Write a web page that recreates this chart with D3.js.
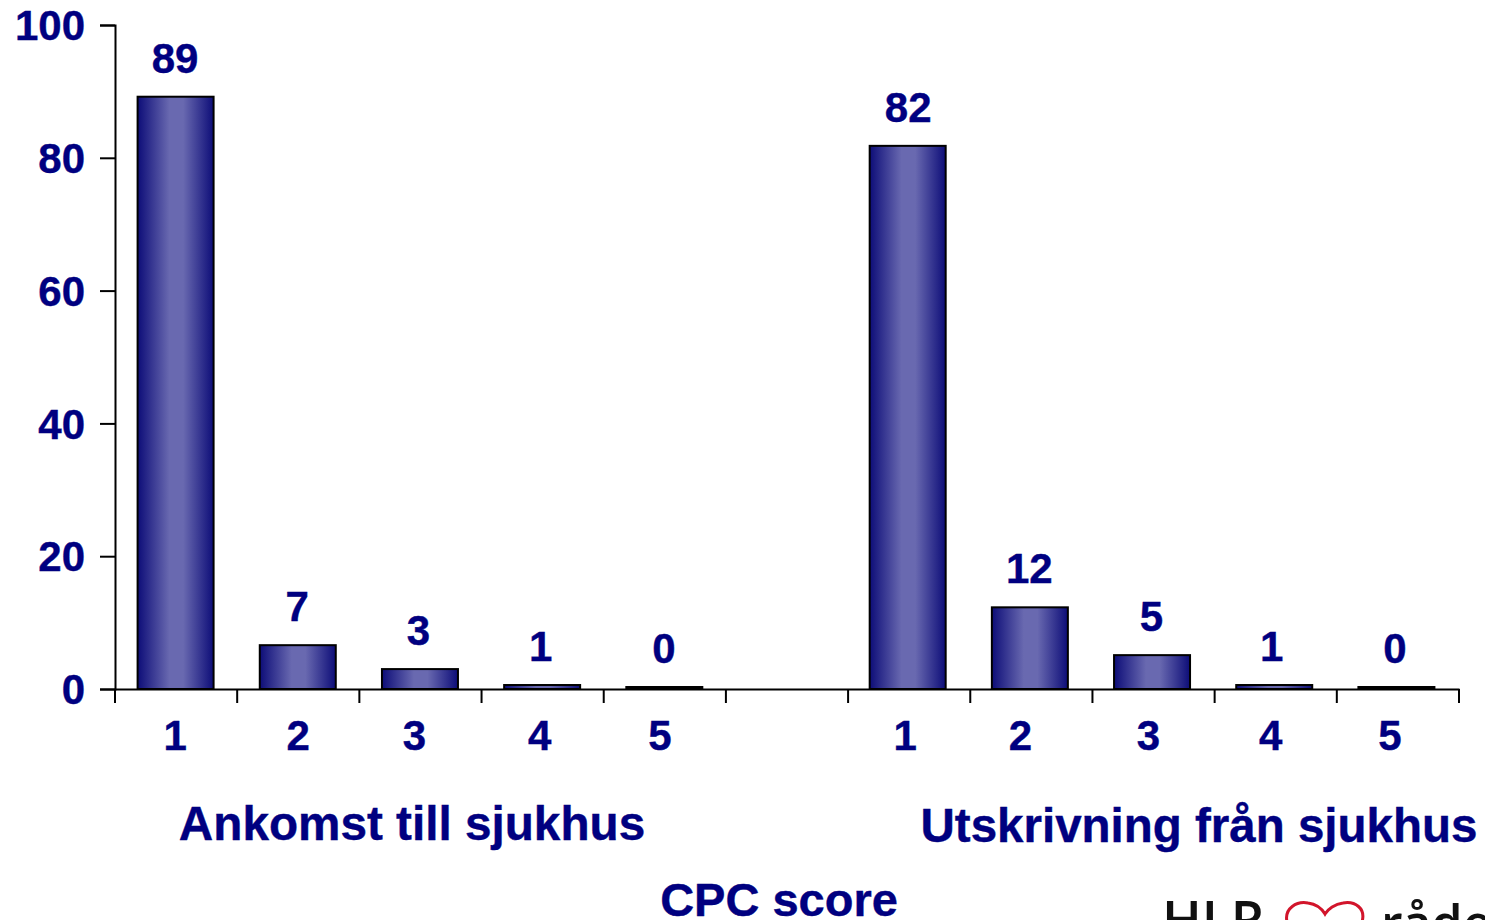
<!DOCTYPE html>
<html><head><meta charset="utf-8">
<script src="https://cdn.jsdelivr.net/npm/d3@7/dist/d3.min.js"></script>
<style>html,body{margin:0;padding:0;background:#fff;overflow:hidden}svg{display:block}</style>
</head><body><svg id="c" width="1485" height="920"></svg>
<script>
const slots = ["a1","a2","a3","a4","a5","gap","u1","u2","u3","u4","u5"];
const categoryLabels = ["1","2","3","4","5","","1","2","3","4","5"];
const barValues = [89.2,6.6,3,0.6,0.3,null,81.8,12.3,5.1,0.6,0.3];
const valueLabels = ["89","7","3","1","0","","82","12","5","1","0"];
const yTicks = [0,20,40,60,80,100];
const groupLabels = ["Ankomst till sjukhus","Utskrivning från sjukhus"];
const axisTitle = "CPC score";

const navy="#000080";
const svg=d3.select("#c");
const x=d3.scaleBand().domain(slots).range([115,1459]).padding(0);
const y=d3.scaleLinear().domain([0,100]).range([689,25]);
const grad=svg.append("defs").append("linearGradient").attr("id","g").attr("x1",0).attr("x2",1).attr("y1",0).attr("y2",0);
[[0,"#0d0d78"],[0.42,"#6969b0"],[0.6,"#6969b0"],[1,"#0d0d78"]].forEach(s=>grad.append("stop").attr("offset",s[0]).attr("stop-color",s[1]));

const data=slots.map((s,i)=>({s,v:barValues[i],l:valueLabels[i],c:categoryLabels[i]}));
const bw=76;
const barShift=s=>s[0]==="u"?-1:0;
svg.selectAll("rect.bar").data(data.filter(d=>d.v!=null)).join("rect").attr("class","bar")
 .attr("x",d=>x(d.s)+(x.bandwidth()-bw)/2-0.5+barShift(d.s)).attr("width",bw)
 .attr("y",d=>y(d.v)).attr("height",d=>y(0)-y(d.v))
 .attr("fill","url(#g)").attr("stroke","#000").attr("stroke-width",2);

const font="'Liberation Sans',Arial,sans-serif";
const ya=svg.append("g").attr("transform","translate(115,0)").call(d3.axisLeft(y).tickValues(yTicks).tickSize(15).tickPadding(15));
ya.selectAll("text").attr("font-family",font).attr("font-weight","bold").attr("font-size",42).attr("fill",navy).attr("stroke",navy).attr("stroke-width",0.4).attr("dy","0.35em");
const xa=svg.append("g").attr("transform","translate(0,689)").call(d3.axisBottom(x).tickFormat("").tickSize(0));
xa.selectAll(".tick").remove();
svg.selectAll("line.xt").data(slots.concat(["end"])).join("line").attr("class","xt")
 .attr("x1",(d,i)=>x.range()[0]+i*x.step()).attr("x2",(d,i)=>x.range()[0]+i*x.step())
 .attr("y1",689).attr("y2",703).attr("stroke","#000").attr("stroke-width",2);
svg.selectAll("path.domain").attr("stroke","#000").attr("stroke-width",2);
ya.selectAll("line").attr("stroke","#000").attr("stroke-width",2);

const txt=(s,px,py,size,anchor="middle")=>svg.append("text").text(s).attr("x",px).attr("y",py)
 .attr("font-family",font).attr("font-weight","bold").attr("font-size",size).attr("fill",navy).attr("stroke",navy).attr("stroke-width",0.4).attr("text-anchor",anchor);

data.filter(d=>d.v!=null).forEach(d=>{
  const valueNudge={a3:-2,a4:-2,a5:-1,u1:-1,u2:-2,u3:-2,u4:-4,u5:-3}[d.s]||-1;
  txt(d.l,x(d.s)+x.bandwidth()/2+valueNudge,y(d.v)-24,42);
  const nudge={a1:-1,a2:0,a3:-6,a4:-3,a5:-5,u1:-4,u2:-11,u3:-5,u4:-5,u5:-8}[d.s];
  txt(d.c,x(d.s)+x.bandwidth()/2+nudge,750,42);
});
txt(groupLabels[0],412,840,47.7);
txt(groupLabels[1],1199,842,47.5);
txt(axisTitle,779,916,47);

svg.append("text").text("HLR").attr("x",1162).attr("y",939).attr("font-family","'Open Sans',sans-serif").attr("font-weight","600").attr("font-size",53).attr("fill","#111");
svg.append("text").text("rådet").attr("x",1381).attr("y",941).attr("font-family","'Open Sans',sans-serif").attr("font-weight","600").attr("font-size",50).attr("fill","#111");
svg.append("path").attr("d","M1287 922C1284 908 1297 901 1308 903C1316 904 1322 909 1325 914C1328 909 1335 904 1343 903C1355 901 1366 908 1362 922")
 .attr("fill","none").attr("stroke","#d2152b").attr("stroke-width",3);
</script></body></html>
